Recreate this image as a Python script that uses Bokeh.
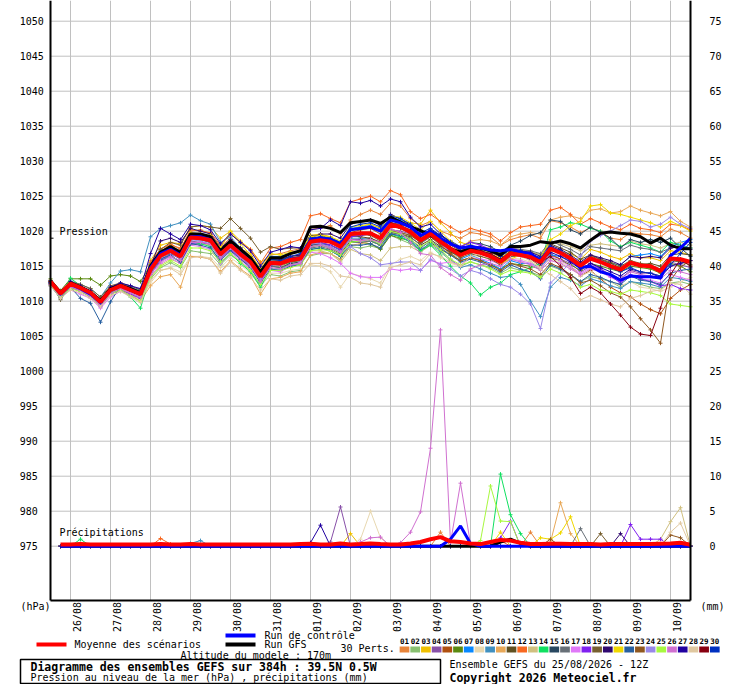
import math
from bokeh.plotting import figure
from bokeh.models import Range1d, Label
from bokeh.embed import file_html
from bokeh.resources import INLINE

# ---------------- data ----------------
STEPS = list(range(65))            # 6-hourly steps from 25/08 12Z (0..384h)
DAY_TICKS = [2, 6, 10, 14, 18, 22, 26, 30, 34, 38, 42, 46, 50, 54, 58, 62]
DAY_LABELS = ["26/08", "27/08", "28/08", "29/08", "30/08", "31/08", "01/09", "02/09",
              "03/09", "04/09", "05/09", "06/09", "07/09", "08/09", "09/09", "10/09"]
PRESS_TICKS = list(range(975, 1051, 5))
PRECIP_TICKS = list(range(0, 76, 5))

MEMBER_COLORS = ["#e8843a", "#88c070", "#f0c000", "#8850a8", "#b05010", "#5a8a10",
                 "#0888ff", "#e8d8b0", "#4090c0", "#e8a858", "#605020", "#f86820",
                 "#d0c080", "#10e060", "#284860", "#687078", "#e078f8", "#8020f0",
                 "#786030", "#300870", "#f0d800", "#2860a0", "#905820", "#9888e8",
                 "#a8f840", "#d070d0", "#2000a0", "#e0c8a0", "#880010", "#0030c0"]

MEAN = [1012.8, 1011.1, 1012.5, 1011.9, 1011.2, 1009.9, 1011.6, 1012.2, 1011.6, 1011.0,
        1014.5, 1016.5, 1017.2, 1016.4, 1019.1, 1019.0, 1018.7, 1016.7, 1018.0, 1016.7,
        1015.6, 1013.5, 1015.5, 1015.4, 1015.9, 1016.1, 1018.5, 1018.7, 1018.5, 1017.8,
        1019.6, 1019.7, 1019.7, 1019.0, 1020.9, 1020.6, 1019.9, 1018.7, 1019.6, 1018.5,
        1017.5, 1016.6, 1017.2, 1016.9, 1016.4, 1015.6, 1016.8, 1016.6, 1016.3, 1015.6,
        1017.5, 1016.9, 1016.1, 1015.1, 1016.1, 1015.6, 1015.0, 1014.5, 1015.5, 1015.1,
        1015.0, 1014.3, 1016.1, 1016.0, 1015.6]

CONTROL = [1012.8, 1011.0, 1012.4, 1011.8, 1011.0, 1009.8, 1011.6, 1012.2, 1011.6, 1011.0,
           1014.8, 1016.8, 1017.4, 1016.6, 1019.2, 1019.2, 1018.8, 1016.8, 1018.0, 1016.8,
           1015.6, 1013.6, 1015.4, 1015.4, 1016.0, 1016.2, 1018.8, 1019.0, 1018.8, 1018.2,
           1020.2, 1020.4, 1020.6, 1020.0, 1021.6, 1021.2, 1020.6, 1019.4, 1020.0, 1019.0,
           1018.2, 1017.6, 1017.8, 1017.6, 1017.3, 1017.2, 1017.4, 1017.0, 1016.8, 1015.8,
           1017.6, 1017.0, 1016.0, 1014.8, 1015.0, 1014.2, 1013.8, 1013.0, 1013.6, 1013.5,
           1013.5, 1013.3, 1016.5, 1017.6, 1019.0]

GFS = [1012.9, 1011.2, 1012.6, 1012.0, 1011.3, 1010.1, 1011.8, 1012.3, 1011.8, 1011.2,
       1015.0, 1017.0, 1017.8, 1017.0, 1019.6, 1019.6, 1019.2, 1017.2, 1018.6, 1017.4,
       1016.2, 1014.2, 1016.2, 1016.2, 1016.8, 1017.2, 1020.6, 1020.7, 1020.4, 1019.8,
       1021.2, 1021.4, 1021.6, 1021.1, 1022.0, 1021.3, 1020.6, 1020.1, 1019.4, 1018.7,
       1017.5, 1017.0, 1017.6, 1017.6, 1017.2, 1016.6, 1017.8, 1017.8, 1018.0, 1018.5,
       1018.3, 1018.6, 1018.2, 1017.6, 1018.7, 1019.7, 1019.9, 1019.7, 1019.6, 1019.2,
       1018.3, 1019.0, 1018.0, 1017.5, 1017.5]

P01 = [1013.0, 1011.3, 1012.8, 1012.2, 1011.5, 1010.2, 1012.0, 1012.6, 1012.0, 1011.4,
       1015.5, 1017.5, 1018.0, 1017.6, 1020.0, 1020.2, 1019.6, 1017.8, 1019.0, 1017.5,
       1016.8, 1014.5, 1016.6, 1016.8, 1017.2, 1017.5, 1020.2, 1020.5, 1020.8, 1019.6,
       1021.6, 1022.4, 1023.0, 1022.4, 1024.0, 1023.6, 1021.8, 1020.8, 1021.4, 1020.0,
       1019.5, 1019.0, 1019.8, 1019.6, 1019.2, 1018.0, 1018.8, 1019.2, 1019.5, 1019.0,
       1021.5, 1021.2, 1020.6, 1019.8, 1020.5, 1020.0, 1019.0, 1018.8, 1019.8, 1019.6,
       1019.5, 1019.2, 1020.3, 1019.8, 1019.0]
P02 = [1012.5, 1010.8, 1012.0, 1011.6, 1010.8, 1009.6, 1011.2, 1011.8, 1011.2, 1010.5,
       1013.2, 1014.8, 1015.5, 1014.8, 1017.2, 1017.0, 1016.8, 1015.2, 1016.6, 1015.6,
       1014.4, 1012.2, 1013.8, 1013.6, 1014.2, 1014.4, 1016.5, 1016.8, 1016.8, 1015.9,
       1017.8, 1017.6, 1017.9, 1017.5, 1019.4, 1018.8, 1018.2, 1017.3, 1018.0, 1017.0,
       1015.8, 1015.0, 1015.6, 1015.2, 1014.8, 1014.0, 1014.8, 1014.4, 1014.2, 1013.6,
       1015.0, 1014.5, 1013.8, 1012.8, 1013.5, 1013.2, 1012.8, 1012.0, 1012.8, 1012.4,
       1012.0, 1011.8, 1012.6, 1012.8, 1012.4]
P03 = [1012.9, 1011.2, 1012.7, 1012.0, 1011.4, 1010.0, 1011.8, 1012.4, 1011.8, 1011.2,
       1015.8, 1018.0, 1018.4, 1018.2, 1020.6, 1020.8, 1020.6, 1019.0, 1020.0, 1018.6,
       1017.4, 1015.6, 1016.4, 1016.0, 1016.8, 1017.0, 1019.4, 1019.6, 1019.2, 1018.4,
       1020.2, 1020.6, 1021.0, 1020.4, 1021.8, 1021.4, 1021.2, 1021.0, 1023.0, 1021.2,
       1019.8, 1018.4, 1018.0, 1017.4, 1017.0, 1016.2, 1017.2, 1016.8, 1016.6, 1015.8,
       1017.2, 1017.0, 1016.8, 1016.0, 1017.4, 1017.0, 1016.4, 1016.0, 1016.8, 1016.2,
       1016.2, 1015.8, 1017.2, 1017.0, 1016.6]
P04 = [1012.6, 1011.0, 1012.2, 1011.7, 1011.0, 1009.6, 1011.4, 1012.0, 1011.4, 1010.8,
       1014.0, 1016.0, 1016.8, 1016.0, 1018.6, 1018.4, 1018.0, 1016.0, 1017.4, 1016.0,
       1015.0, 1013.0, 1015.0, 1015.2, 1015.6, 1015.8, 1018.0, 1018.2, 1017.8, 1017.0,
       1018.8, 1018.8, 1019.0, 1018.4, 1020.2, 1020.0, 1019.6, 1018.4, 1019.2, 1018.2,
       1017.0, 1016.4, 1017.6, 1017.6, 1017.0, 1016.4, 1017.4, 1017.0, 1016.2, 1015.2,
       1016.8, 1016.0, 1015.4, 1014.2, 1015.0, 1014.6, 1013.8, 1013.2, 1014.4, 1014.0,
       1014.0, 1013.6, 1015.6, 1015.2, 1014.8]
P05 = [1012.4, 1010.6, 1012.1, 1011.5, 1010.8, 1009.4, 1011.0, 1011.8, 1011.4, 1010.9,
       1014.2, 1016.6, 1017.4, 1016.8, 1019.4, 1019.2, 1018.8, 1017.0, 1018.4, 1017.2,
       1016.0, 1014.0, 1015.8, 1015.9, 1016.4, 1016.6, 1018.8, 1019.0, 1018.8, 1018.2,
       1019.8, 1020.2, 1020.4, 1019.6, 1021.2, 1021.0, 1020.6, 1019.4, 1020.0, 1019.2,
       1018.0, 1017.2, 1017.4, 1017.0, 1016.6, 1016.0, 1017.0, 1016.6, 1016.0, 1015.0,
       1016.6, 1016.0, 1015.0, 1013.6, 1014.4, 1013.2, 1012.0, 1011.2, 1010.6, 1009.6,
       1008.8, 1008.2, 1010.4, 1011.6, 1012.4]
P06 = [1013.2, 1011.5, 1013.2, 1013.2, 1013.2, 1012.3, 1013.6, 1013.8, 1013.6, 1012.8,
       1015.2, 1017.0, 1017.6, 1016.8, 1019.6, 1019.2, 1018.6, 1016.4, 1017.8, 1016.4,
       1015.4, 1013.2, 1015.2, 1015.0, 1015.6, 1015.8, 1017.8, 1018.0, 1017.6, 1016.8,
       1018.6, 1018.4, 1018.2, 1017.4, 1019.4, 1019.0, 1018.6, 1017.2, 1018.4, 1017.4,
       1016.6, 1015.8, 1016.2, 1015.8, 1015.2, 1014.6, 1015.4, 1015.2, 1015.0, 1014.6,
       1016.2, 1015.8, 1015.2, 1014.4, 1015.4, 1015.0, 1014.6, 1014.2, 1015.0, 1014.8,
       1014.6, 1014.0, 1015.4, 1015.0, 1014.2]
P07 = [1012.7, 1011.0, 1012.6, 1012.0, 1011.2, 1010.0, 1011.8, 1012.4, 1012.2, 1011.6,
       1015.4, 1017.2, 1017.8, 1017.0, 1019.8, 1019.6, 1019.2, 1017.0, 1018.6, 1017.4,
       1016.4, 1014.4, 1016.4, 1016.4, 1016.8, 1017.2, 1019.0, 1019.2, 1019.0, 1018.4,
       1020.4, 1020.6, 1020.8, 1020.2, 1022.0, 1021.6, 1020.6, 1019.2, 1019.8, 1018.4,
       1017.2, 1016.0, 1016.6, 1016.0, 1015.4, 1014.6, 1015.8, 1015.4, 1015.4, 1014.8,
       1016.6, 1016.4, 1015.8, 1014.8, 1016.0, 1015.8, 1015.4, 1015.2, 1016.4, 1016.6,
       1016.8, 1016.4, 1017.8, 1018.4, 1018.8]
P08 = [1012.3, 1010.6, 1011.8, 1011.4, 1010.6, 1009.4, 1011.0, 1011.6, 1011.0, 1010.2,
       1012.6, 1014.4, 1014.8, 1014.2, 1016.4, 1016.4, 1016.2, 1014.8, 1016.2, 1015.2,
       1014.0, 1012.0, 1014.0, 1014.0, 1014.4, 1014.6, 1015.2, 1015.0, 1014.2, 1012.0,
       1014.0, 1013.6, 1013.2, 1012.6, 1015.2, 1016.0, 1016.4, 1015.8, 1017.0, 1016.2,
       1015.4, 1015.0, 1016.2, 1016.4, 1016.0, 1015.2, 1016.2, 1016.0, 1015.6, 1014.8,
       1016.0, 1015.6, 1014.8, 1013.6, 1014.2, 1013.4, 1012.8, 1012.2, 1012.8, 1012.0,
       1011.8, 1011.4, 1012.0, 1012.8, 1013.4]
P09 = [1012.9, 1011.3, 1012.9, 1012.4, 1011.8, 1010.6, 1012.6, 1014.3, 1014.5, 1014.2,
       1019.2, 1020.4, 1020.8, 1021.2, 1022.3, 1021.5, 1021.0, 1018.4, 1019.2, 1017.6,
       1016.2, 1014.0, 1015.8, 1015.6, 1016.0, 1016.2, 1018.2, 1018.4, 1018.0, 1017.2,
       1019.0, 1019.0, 1018.8, 1018.0, 1019.6, 1019.2, 1018.6, 1017.4, 1018.2, 1017.2,
       1016.0, 1014.8, 1015.2, 1014.6, 1014.0, 1013.4, 1013.6, 1012.4, 1010.0, 1007.8,
       1012.0, 1013.4, 1013.0, 1012.2, 1013.2, 1012.8, 1012.2, 1011.8, 1012.8, 1012.6,
       1012.4, 1012.0, 1013.4, 1013.2, 1012.8]
P10 = [1012.5, 1010.9, 1012.2, 1011.6, 1010.9, 1009.6, 1011.2, 1011.8, 1011.0, 1010.0,
       1012.2, 1013.5, 1013.8, 1012.0, 1016.4, 1016.3, 1016.0, 1014.2, 1015.8, 1014.6,
       1013.6, 1011.0, 1013.2, 1013.4, 1014.0, 1014.2, 1016.6, 1017.0, 1016.8, 1016.0,
       1018.0, 1018.2, 1018.6, 1018.0, 1020.0, 1019.8, 1019.4, 1018.4, 1019.6, 1018.8,
       1018.2, 1017.8, 1018.6, 1018.8, 1018.6, 1018.0, 1019.2, 1019.6, 1019.8, 1019.6,
       1021.6, 1022.0, 1022.2, 1021.8, 1023.0, 1023.2, 1022.6, 1022.8, 1023.6, 1023.0,
       1022.6, 1022.2, 1022.8, 1021.4, 1020.6]
P11 = [1012.6, 1010.2, 1012.3, 1011.8, 1011.0, 1009.8, 1011.4, 1012.0, 1011.4, 1010.8,
       1014.6, 1016.8, 1017.4, 1016.6, 1019.4, 1019.4, 1019.0, 1017.4, 1018.8, 1017.6,
       1016.4, 1014.2, 1016.0, 1015.8, 1016.2, 1016.4, 1018.6, 1019.0, 1018.8, 1018.0,
       1019.4, 1019.2, 1019.0, 1018.4, 1019.8, 1019.6, 1019.2, 1018.0, 1018.8, 1017.8,
       1017.0, 1016.4, 1017.4, 1017.2, 1016.8, 1016.0, 1017.2, 1017.0, 1017.0, 1016.6,
       1018.2, 1017.6, 1017.0, 1016.0, 1016.6, 1016.0, 1015.4, 1014.8, 1015.6, 1015.2,
       1015.4, 1015.0, 1016.6, 1016.8, 1016.6]
P12 = [1012.8, 1011.2, 1012.6, 1012.1, 1011.4, 1010.2, 1011.9, 1012.5, 1012.0, 1011.4,
       1015.6, 1017.4, 1018.2, 1017.4, 1020.2, 1020.0, 1019.8, 1018.0, 1019.6, 1018.4,
       1017.4, 1015.4, 1017.6, 1017.8, 1018.4, 1018.8, 1022.2, 1022.5, 1021.8, 1021.2,
       1024.2, 1024.6, 1025.0, 1024.2, 1025.8, 1025.2, 1022.8, 1021.8, 1022.4, 1021.4,
       1020.6, 1019.8, 1020.4, 1020.0, 1019.6, 1018.6, 1019.8, 1020.6, 1020.8, 1021.0,
       1023.0, 1023.4, 1022.4, 1021.0, 1021.8, 1021.2, 1020.6, 1020.2, 1021.0, 1020.4,
       1020.2, 1019.8, 1021.0, 1020.8, 1020.2]
P13 = [1012.4, 1010.8, 1012.2, 1011.6, 1011.0, 1009.8, 1011.4, 1012.0, 1011.2, 1010.4,
       1013.6, 1015.2, 1016.0, 1015.4, 1018.0, 1018.2, 1018.0, 1016.2, 1017.6, 1016.6,
       1015.2, 1013.2, 1015.2, 1015.0, 1015.4, 1015.6, 1017.2, 1017.2, 1016.8, 1015.6,
       1017.4, 1016.8, 1016.6, 1015.8, 1017.6, 1017.8, 1017.8, 1017.0, 1018.0, 1017.6,
       1016.8, 1016.2, 1017.6, 1017.8, 1017.6, 1016.8, 1017.6, 1017.4, 1017.0, 1016.6,
       1018.4, 1018.2, 1017.8, 1017.2, 1018.0, 1018.2, 1018.0, 1017.8, 1018.6, 1018.2,
       1018.0, 1017.6, 1018.2, 1018.4, 1018.0]
P14 = [1012.5, 1010.6, 1013.3, 1012.2, 1011.2, 1009.8, 1011.2, 1011.6, 1010.6, 1009.0,
       1013.8, 1015.8, 1016.4, 1015.6, 1018.4, 1018.2, 1017.8, 1015.4, 1016.8, 1015.4,
       1014.2, 1012.0, 1014.6, 1014.6, 1015.2, 1015.4, 1017.4, 1017.6, 1017.2, 1016.4,
       1018.4, 1018.6, 1018.6, 1018.0, 1019.6, 1019.2, 1018.4, 1017.2, 1018.0, 1016.6,
       1015.0, 1013.6, 1012.6, 1010.9, 1012.0, 1012.6, 1013.8, 1014.2, 1014.8, 1015.4,
       1020.2, 1020.6, 1021.2, 1021.0, 1020.4, 1020.0, 1018.6, 1017.8, 1018.4, 1018.0,
       1017.6, 1017.0, 1018.4, 1018.0, 1017.6]
P15 = [1012.6, 1011.0, 1012.4, 1011.8, 1011.0, 1009.8, 1011.6, 1012.2, 1011.8, 1011.2,
       1014.8, 1016.8, 1017.4, 1016.6, 1019.0, 1018.8, 1018.4, 1016.2, 1017.6, 1016.2,
       1015.0, 1012.8, 1015.0, 1014.8, 1015.4, 1015.6, 1018.0, 1018.2, 1018.0, 1017.4,
       1019.2, 1019.4, 1019.6, 1019.0, 1021.0, 1020.8, 1020.2, 1019.2, 1020.0, 1019.4,
       1018.6, 1017.8, 1018.4, 1018.2, 1017.8, 1017.0, 1018.0, 1018.6, 1019.4, 1019.8,
       1021.6, 1021.4, 1020.2, 1019.6, 1020.6, 1019.8, 1019.0, 1017.6, 1018.8, 1018.4,
       1018.8, 1018.4, 1019.0, 1017.6, 1016.4]
P16 = [1012.7, 1011.1, 1012.4, 1011.9, 1011.2, 1010.0, 1011.7, 1012.2, 1011.6, 1011.0,
       1014.4, 1016.2, 1016.9, 1016.2, 1018.8, 1018.8, 1018.4, 1016.4, 1017.8, 1016.4,
       1015.2, 1013.0, 1015.0, 1014.8, 1015.2, 1015.4, 1017.6, 1017.8, 1017.4, 1016.6,
       1018.4, 1018.4, 1018.6, 1018.0, 1019.8, 1019.6, 1019.0, 1018.2, 1019.2, 1018.2,
       1017.4, 1016.8, 1017.8, 1017.6, 1017.2, 1016.6, 1017.6, 1017.4, 1017.2, 1016.8,
       1018.6, 1018.0, 1017.4, 1016.6, 1017.8, 1017.6, 1017.4, 1017.2, 1018.0, 1017.6,
       1017.4, 1017.0, 1017.6, 1017.8, 1017.6]
P17 = [1012.2, 1010.6, 1011.6, 1011.0, 1010.4, 1009.0, 1010.6, 1011.4, 1010.8, 1010.0,
       1013.4, 1015.4, 1016.2, 1015.4, 1018.0, 1017.8, 1017.4, 1015.4, 1017.0, 1015.8,
       1014.6, 1012.8, 1014.4, 1014.2, 1015.0, 1015.6, 1017.0, 1016.8, 1016.2, 1015.4,
       1014.0, 1013.5, 1013.4, 1013.4, 1014.6, 1014.4, 1014.6, 1014.4, 1015.8, 1015.4,
       1015.6, 1015.2, 1016.2, 1016.0, 1015.8, 1015.2, 1016.0, 1015.8, 1015.4, 1014.6,
       1016.4, 1015.8, 1015.0, 1014.0, 1014.8, 1014.2, 1013.4, 1012.8, 1013.6, 1013.2,
       1013.0, 1012.6, 1013.8, 1013.4, 1013.0]
P18 = [1012.4, 1010.8, 1012.0, 1011.4, 1010.6, 1009.2, 1011.0, 1011.6, 1011.0, 1010.4,
       1013.8, 1015.8, 1016.6, 1015.6, 1018.2, 1018.4, 1018.2, 1016.2, 1017.4, 1016.2,
       1015.0, 1013.0, 1015.2, 1015.2, 1015.8, 1016.2, 1018.6, 1018.4, 1018.0, 1017.4,
       1019.2, 1019.4, 1019.6, 1019.0, 1020.8, 1020.4, 1019.8, 1018.6, 1019.6, 1018.8,
       1018.2, 1017.8, 1018.4, 1018.0, 1017.4, 1016.6, 1017.6, 1017.2, 1016.8, 1016.0,
       1017.6, 1016.8, 1015.8, 1014.6, 1015.4, 1014.6, 1013.6, 1012.6, 1013.8, 1013.2,
       1012.8, 1012.2, 1012.4, 1011.8, 1011.6]
P19 = [1012.9, 1011.4, 1012.8, 1012.4, 1011.8, 1010.6, 1012.2, 1012.6, 1012.2, 1011.6,
       1015.2, 1017.4, 1018.4, 1018.0, 1020.6, 1020.8, 1020.6, 1020.4, 1021.8, 1020.4,
       1019.0, 1017.0, 1017.8, 1017.4, 1017.6, 1017.6, 1019.4, 1019.4, 1019.0, 1018.2,
       1019.8, 1019.6, 1019.4, 1018.6, 1020.0, 1019.8, 1019.4, 1018.4, 1019.4, 1018.4,
       1017.2, 1016.2, 1016.8, 1016.4, 1016.0, 1015.2, 1016.4, 1016.4, 1016.4, 1016.0,
       1017.8, 1017.2, 1016.4, 1015.4, 1016.4, 1016.0, 1015.6, 1015.0, 1015.8, 1015.4,
       1015.2, 1014.6, 1015.8, 1015.6, 1015.2]
P20 = [1012.6, 1011.0, 1012.3, 1011.7, 1010.9, 1009.6, 1011.4, 1011.9, 1011.4, 1010.9,
       1015.0, 1018.6, 1019.0, 1018.4, 1020.4, 1020.0, 1019.6, 1017.6, 1018.8, 1017.6,
       1016.2, 1014.0, 1016.0, 1016.0, 1016.4, 1016.6, 1019.0, 1019.6, 1019.6, 1019.0,
       1021.0, 1021.4, 1021.6, 1020.8, 1022.4, 1021.8, 1020.8, 1019.4, 1020.2, 1019.4,
       1018.4, 1017.4, 1017.8, 1017.6, 1017.2, 1016.4, 1017.4, 1017.2, 1017.0, 1016.4,
       1018.0, 1017.4, 1016.6, 1015.6, 1016.6, 1016.2, 1015.8, 1015.2, 1016.4, 1016.2,
       1016.4, 1016.2, 1017.6, 1017.8, 1017.4]
P21 = [1012.8, 1011.2, 1012.6, 1012.0, 1011.4, 1010.2, 1011.8, 1012.4, 1011.8, 1011.2,
       1015.0, 1017.0, 1017.8, 1017.0, 1019.8, 1019.6, 1019.4, 1017.6, 1020.0, 1018.2,
       1016.6, 1014.8, 1016.8, 1016.6, 1017.0, 1017.2, 1019.2, 1019.4, 1019.2, 1018.6,
       1020.6, 1020.8, 1021.0, 1020.4, 1022.2, 1022.0, 1021.2, 1020.2, 1021.4, 1020.0,
       1018.6, 1017.4, 1017.8, 1017.2, 1016.6, 1015.4, 1016.0, 1016.6, 1016.4, 1016.2,
       1018.8, 1019.6, 1020.8, 1021.4, 1023.6, 1023.8, 1022.6, 1022.4, 1022.0, 1021.6,
       1021.2, 1020.6, 1021.4, 1020.8, 1020.0]
P22 = [1012.2, 1010.4, 1012.0, 1010.4, 1009.7, 1007.0, 1009.9, 1012.2, 1012.0, 1011.4,
       1014.2, 1016.0, 1016.6, 1015.6, 1018.2, 1018.0, 1017.6, 1015.8, 1017.2, 1016.0,
       1014.8, 1012.6, 1014.6, 1014.4, 1015.0, 1015.2, 1017.4, 1017.6, 1017.2, 1016.4,
       1018.0, 1018.0, 1018.2, 1017.6, 1019.6, 1019.4, 1018.8, 1017.6, 1018.6, 1017.6,
       1016.6, 1015.6, 1016.0, 1015.6, 1015.0, 1014.2, 1015.2, 1014.6, 1014.2, 1013.2,
       1015.2, 1014.6, 1013.8, 1012.8, 1013.8, 1013.4, 1012.8, 1012.4, 1013.6, 1013.0,
       1012.8, 1012.4, 1014.0, 1014.4, 1014.6]
P23 = [1012.7, 1011.0, 1012.3, 1011.8, 1011.1, 1009.8, 1011.5, 1012.1, 1011.5, 1010.9,
       1014.6, 1016.6, 1017.2, 1016.4, 1019.0, 1018.9, 1018.6, 1016.6, 1018.2, 1017.0,
       1015.8, 1013.6, 1015.6, 1015.6, 1016.2, 1016.4, 1018.8, 1019.0, 1018.8, 1018.0,
       1019.8, 1019.8, 1019.8, 1019.0, 1020.8, 1020.4, 1019.6, 1018.4, 1019.2, 1018.0,
       1016.8, 1015.8, 1016.2, 1015.8, 1015.2, 1014.4, 1015.4, 1015.0, 1014.6, 1013.8,
       1015.4, 1014.8, 1013.8, 1012.6, 1013.0, 1012.2, 1011.2, 1010.6, 1009.2, 1007.5,
       1005.9, 1004.0, 1013.0, 1014.9, 1015.8]
P24 = [1012.6, 1011.0, 1012.2, 1011.6, 1010.8, 1009.6, 1011.4, 1012.0, 1011.2, 1010.6,
       1014.2, 1016.2, 1017.0, 1016.2, 1018.8, 1018.6, 1018.2, 1016.2, 1017.6, 1016.4,
       1015.2, 1013.2, 1015.4, 1015.4, 1015.8, 1016.0, 1018.2, 1018.2, 1017.8, 1017.0,
       1017.8, 1016.8, 1016.2, 1015.2, 1015.4, 1015.6, 1015.6, 1014.4, 1016.0, 1015.2,
       1014.6, 1013.6, 1014.4, 1014.0, 1013.2, 1012.4, 1012.0, 1011.0, 1009.6, 1006.1,
       1012.6, 1014.0, 1015.6, 1016.4, 1018.6, 1019.4, 1020.0, 1020.8, 1021.6, 1021.4,
       1020.6, 1021.0, 1022.0, 1021.0, 1020.4]
P25 = [1012.3, 1010.7, 1011.8, 1011.4, 1010.6, 1009.4, 1011.0, 1011.6, 1010.8, 1010.0,
       1013.4, 1015.0, 1015.8, 1015.0, 1017.6, 1017.6, 1017.2, 1015.6, 1016.8, 1015.6,
       1014.4, 1012.4, 1014.4, 1014.4, 1014.8, 1015.2, 1017.2, 1017.4, 1017.2, 1016.6,
       1018.4, 1018.6, 1018.8, 1018.2, 1020.0, 1019.6, 1018.8, 1017.8, 1018.6, 1017.4,
       1016.0, 1015.2, 1015.6, 1015.2, 1014.6, 1013.8, 1014.4, 1014.2, 1014.0, 1013.4,
       1014.6, 1014.0, 1013.2, 1012.0, 1012.4, 1011.6, 1011.4, 1011.0, 1011.6, 1011.4,
       1011.2, 1010.8, 1009.6, 1009.4, 1009.2]
P26 = [1012.4, 1010.9, 1012.0, 1011.5, 1010.7, 1009.4, 1011.1, 1011.8, 1011.2, 1010.6,
       1013.8, 1015.6, 1016.4, 1015.8, 1018.4, 1018.4, 1018.2, 1016.2, 1017.6, 1016.2,
       1015.0, 1012.8, 1014.8, 1014.6, 1015.2, 1015.4, 1017.8, 1018.0, 1017.6, 1017.0,
       1018.8, 1018.6, 1018.8, 1018.4, 1020.4, 1019.8, 1018.4, 1016.8, 1016.6, 1014.8,
       1013.8, 1013.0, 1014.6, 1015.2, 1015.4, 1015.0, 1016.0, 1015.6, 1015.2, 1014.4,
       1015.8, 1015.4, 1014.6, 1013.8, 1014.6, 1014.2, 1013.8, 1013.2, 1014.2, 1013.8,
       1013.6, 1013.2, 1014.4, 1014.2, 1013.8]
P27 = [1012.9, 1011.3, 1012.8, 1012.2, 1011.5, 1010.2, 1012.0, 1012.6, 1012.2, 1011.8,
       1016.8, 1020.4, 1019.6, 1018.8, 1021.0, 1020.8, 1020.2, 1018.2, 1019.6, 1018.4,
       1017.2, 1015.0, 1017.0, 1017.4, 1017.8, 1017.6, 1020.2, 1020.4, 1021.6, 1020.8,
       1024.2, 1024.0, 1024.4, 1023.6, 1024.6, 1024.2, 1022.0, 1020.6, 1021.0, 1019.6,
       1018.4, 1017.2, 1017.6, 1017.2, 1016.6, 1015.8, 1016.8, 1016.4, 1016.0, 1015.4,
       1017.0, 1016.4, 1015.6, 1014.6, 1015.4, 1014.8, 1014.2, 1013.6, 1014.6, 1014.2,
       1014.0, 1013.4, 1015.0, 1015.4, 1015.8]
P28 = [1012.2, 1010.4, 1011.6, 1011.2, 1010.4, 1009.2, 1010.8, 1011.4, 1010.6, 1009.8,
       1013.0, 1014.4, 1014.7, 1013.8, 1016.2, 1016.4, 1016.0, 1014.0, 1015.6, 1014.4,
       1013.4, 1011.6, 1013.2, 1013.0, 1013.6, 1013.8, 1015.4, 1015.4, 1015.0, 1013.6,
       1013.4, 1012.6, 1012.4, 1012.0, 1014.8, 1015.2, 1015.6, 1015.2, 1016.8, 1016.4,
       1015.6, 1015.0, 1016.4, 1016.8, 1016.4, 1015.8, 1016.6, 1016.4, 1015.8, 1014.6,
       1013.8, 1012.8, 1011.8, 1010.2, 1010.8, 1010.2, 1009.6, 1009.2, 1010.4, 1010.8,
       1011.4, 1011.6, 1012.6, 1012.4, 1011.0]
P29 = [1012.8, 1011.2, 1012.5, 1011.9, 1011.3, 1010.0, 1011.7, 1012.3, 1011.8, 1011.2,
       1014.8, 1016.8, 1017.4, 1016.6, 1019.2, 1019.2, 1018.8, 1017.0, 1018.2, 1017.0,
       1015.8, 1013.8, 1015.6, 1015.6, 1016.0, 1016.2, 1018.6, 1018.8, 1018.6, 1017.8,
       1019.6, 1019.8, 1019.8, 1019.2, 1021.2, 1020.8, 1020.0, 1018.8, 1019.6, 1018.6,
       1017.6, 1016.8, 1017.4, 1017.2, 1016.8, 1016.0, 1017.0, 1016.8, 1016.4, 1015.6,
       1016.4, 1015.0, 1013.4, 1011.1, 1012.0, 1011.2, 1009.6, 1008.0, 1006.3, 1005.3,
       1005.1, 1009.0, 1013.8, 1016.0, 1015.0]
P30 = [1012.7, 1011.1, 1012.5, 1011.9, 1011.1, 1009.8, 1011.6, 1012.3, 1011.7, 1011.2,
       1015.0, 1017.0, 1017.6, 1016.8, 1019.4, 1019.2, 1018.8, 1016.8, 1018.2, 1017.0,
       1016.0, 1014.0, 1016.0, 1015.8, 1016.4, 1016.8, 1019.0, 1019.2, 1019.0, 1018.4,
       1020.6, 1021.0, 1021.2, 1020.6, 1022.2, 1021.8, 1021.0, 1019.8, 1020.4, 1019.4,
       1018.4, 1017.6, 1018.0, 1017.6, 1017.2, 1016.4, 1017.4, 1017.2, 1016.8, 1016.2,
       1017.8, 1017.2, 1016.2, 1015.2, 1016.2, 1015.6, 1014.8, 1014.2, 1014.8, 1014.2,
       1014.0, 1013.6, 1015.2, 1016.8, 1018.4]

MEMBERS = [P01, P02, P03, P04, P05, P06, P07, P08, P09, P10,
           P11, P12, P13, P14, P15, P16, P17, P18, P19, P20,
           P21, P22, P23, P24, P25, P26, P27, P28, P29, P30]

# precipitation (mm per 6h), steps 1..64; steps not listed are 0
RAIN_MEMBERS = {
    1: {39: 2.0, 48: 2.0},
    3: {30: 1.8},
    4: {28: 0.6, 29: 5.6},
    8: {3: 0.5, 31: 1.0, 32: 5.0, 33: 1.2},
    9: {14: 0.4, 15: 0.8},
    10: {50: 0.6, 51: 6.2, 52: 1.8},
    12: {11: 1.1, 12: 0.3, 45: 0.8},
    13: {61: 1.0, 62: 3.5, 63: 5.5},
    14: {3: 1.0, 45: 10.3, 46: 4.5, 47: 1.8},
    16: {53: 2.5},
    18: {45: 1.2, 46: 3.6, 58: 3.1, 59: 1.0, 60: 1.0, 61: 1.0},
    19: {55: 1.8},
    20: {57: 1.8},
    21: {45: 2.0, 49: 1.2, 50: 1.0, 51: 1.9, 52: 4.2},
    23: {50: 1.0, 62: 1.6, 63: 1.2},
    25: {43: 0.8, 44: 8.6, 45: 3.6, 46: 3.5},
    26: {31: 0.6, 32: 1.2, 33: 1.3, 35: 0.5, 36: 2.0, 37: 4.9, 38: 14.0, 39: 30.9,
         40: 0.5, 41: 9.0, 42: 0.3},
    27: {26: 0.5, 27: 3.0},
    28: {62: 2.0, 63: 3.3},
}
RAIN_CONTROL = {40: 1.0, 41: 2.9, 42: 0.4}
RAIN_GFS = {45: 0.6, 46: 1.0, 47: 0.4}
RAIN_MEAN = [0.25, 0.25, 0.3, 0.25, 0.25, 0.25, 0.25, 0.25, 0.25, 0.25,
             0.3, 0.25, 0.25, 0.3, 0.25, 0.25, 0.25, 0.25, 0.25, 0.25,
             0.25, 0.25, 0.25, 0.25, 0.3, 0.35, 0.25, 0.25, 0.4, 0.25,
             0.3, 0.4, 0.3, 0.25, 0.25, 0.4, 0.6, 1.0, 1.3, 0.7,
             0.6, 0.4, 0.3, 0.6, 0.9, 0.8, 0.5, 0.3, 0.3, 0.35,
             0.35, 0.3, 0.3, 0.3, 0.25, 0.3, 0.3, 0.3, 0.3, 0.3,
             0.35, 0.4, 0.5, 0.2]

RAIN_STEPS = STEPS[1:]

def rain_series(d):
    return [d.get(s, 0.0) for s in RAIN_STEPS]

# ---------------- figure: one canvas, 10 px per 6h step, 7 px per hPa / mm ----------------
FONT = "DejaVu Sans Mono"
W, H = 724, 684
XL, XR = -5.0, 67.4                 # step units across the canvas
YT = 1050 + 20.7 / 7                # pressure at the top edge
YB = YT - H / 7                     # pressure at the bottom edge
YAX = YT - 600 / 7                  # bottom line of the plot area

def X(px):      # layout helper: canvas pixel column -> step units (for text placement)
    return XL + px / 10.0

def Y(py):      # layout helper: canvas pixel row -> pressure units (for text placement)
    return YT - py / 7.0

p = figure(width=W, height=H, x_range=Range1d(XL, XR), y_range=Range1d(YB, YT),
           output_backend="svg", toolbar_location=None, title=None,
           x_axis_type=None, y_axis_type=None,
           min_border_left=0, min_border_right=0, min_border_top=0, min_border_bottom=0)
p.extra_y_ranges = {"precip": Range1d(YB - 975, YT - 975)}
p.grid.visible = False
p.outline_line_color = None
p.background_fill_color = "white"
p.border_fill_color = "white"

# grid of the plot area
p.segment(x0=DAY_TICKS, y0=[YAX] * len(DAY_TICKS), x1=DAY_TICKS, y1=[YT] * len(DAY_TICKS),
          line_color="#c0c0c0", line_width=1)
p.segment(x0=[0] * len(PRESS_TICKS), y0=PRESS_TICKS, x1=[64] * len(PRESS_TICKS), y1=PRESS_TICKS,
          line_color="#c0c0c0", line_width=1)

# members: pressure
for vals, col in zip(MEMBERS, MEMBER_COLORS):
    p.line(STEPS, vals, line_color=col, line_width=1)
    p.scatter(STEPS, vals, marker="cross", size=4, line_color=col, line_width=1)
# members: precipitation
for k, col in enumerate(MEMBER_COLORS):
    r = rain_series(RAIN_MEMBERS.get(k + 1, {}))
    p.line(RAIN_STEPS, r, line_color=col, line_width=1, y_range_name="precip")
    p.scatter(RAIN_STEPS, r, marker="cross", size=4, line_color=col, line_width=1,
              y_range_name="precip")

# GFS and control
p.line(RAIN_STEPS, rain_series(RAIN_GFS), line_color="black", line_width=3, y_range_name="precip")
p.line(RAIN_STEPS, rain_series(RAIN_CONTROL), line_color="#0000ff", line_width=3, y_range_name="precip")
p.line(STEPS, GFS, line_color="black", line_width=3)
p.line(STEPS, CONTROL, line_color="#0000ff", line_width=3)

# mean
p.line(RAIN_STEPS, RAIN_MEAN, line_color="#ff0000", line_width=4, y_range_name="precip")
p.line(STEPS, MEAN, line_color="#ff0000", line_width=4)

# axis lines (left, right, bottom)
p.segment(x0=[0, 64, 0], y0=[YAX, YAX, YAX], x1=[0, 64, 64], y1=[YT, YT, YAX],
          line_color="black", line_width=2)
p.segment(x0=[0], y0=[1019.0], x1=[0.3], y1=[1019.0], line_color="black", line_width=1)

def txt(x, y, t, size="10px", style="normal", align="left", angle=0.0, yr="default"):
    p.add_layout(Label(x=x, y=y, text=t, text_align=align, text_baseline="middle",
                       text_font=FONT, text_font_size=size, text_font_style=style,
                       text_color="black", angle=angle, y_range_name=yr))

# tick labels
for v in PRESS_TICKS:
    txt(X(19.3), v, str(v))
for v in PRECIP_TICKS:
    txt(X(709), v, str(v), yr="precip")
for t, lab in zip(DAY_TICKS, DAY_LABELS):
    txt(t + 0.7, Y(616.5), lab, align="center", angle=math.pi / 2)
txt(X(20), Y(606), "(hPa)")
txt(X(700), Y(606), "(mm)")
txt(0.9, 1020.0, "Pression")
txt(0.9, 976.9, "Précipitations")

# legend
p.segment(x0=[X(36)], y0=[Y(644)], x1=[X(66)], y1=[Y(644)], line_color="#ff0000", line_width=4)
txt(X(74), Y(644), "Moyenne des scénarios")
p.segment(x0=[X(225)], y0=[Y(635)], x1=[X(255)], y1=[Y(635)], line_color="#0000ff", line_width=4)
txt(X(264), Y(635), "Run de contrôle")
p.segment(x0=[X(225)], y0=[Y(644)], x1=[X(255)], y1=[Y(644)], line_color="black", line_width=4)
txt(X(264), Y(644), "Run GFS")
txt(X(340), Y(648), "30 Perts.")

sw_x = [X(404 + 10.7 * k) for k in range(30)]
p.rect(x=sw_x, y=[Y(649)] * 30, width=0.97, height=6 / 7, fill_color=MEMBER_COLORS, line_color=None)
for k in range(30):
    txt(sw_x[k], Y(640), "%02d" % (k + 1), size="7.5px", style="bold", align="center")

txt(X(180), Y(655), "Altitude du modele : 170m")
p.quad(left=[X(20)], right=[X(440)], top=[Y(659)], bottom=[Y(683)], fill_color=None,
       line_color="black", line_width=1.5)
txt(X(30), Y(666), "Diagramme des ensembles GEFS sur 384h : 39.5N 0.5W", size="11.5px", style="bold")
txt(X(30), Y(677), "Pression au niveau de la mer (hPa) , précipitations (mm)")
txt(X(449), Y(664), "Ensemble GEFS du 25/08/2026 - 12Z")
txt(X(449), Y(677), "Copyright 2026 Meteociel.fr", size="11.5px", style="bold")

open("out.html", "w").write(file_html(p, INLINE))
